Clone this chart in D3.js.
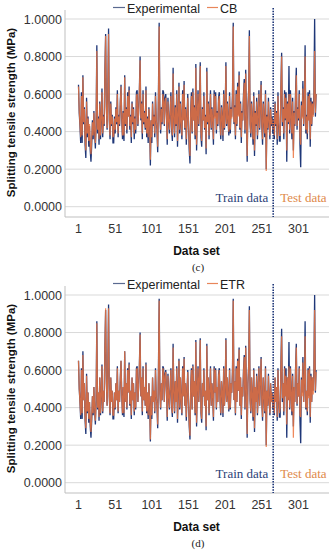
<!DOCTYPE html>
<html>
<head>
<meta charset="utf-8">
<script src="https://cdn.jsdelivr.net/npm/d3@7"></script>
<style>
  body { margin: 0; background: #fff; }
  svg { display: block; }
</style>
</head>
<body>
<svg id="chart" width="335" height="550"></svg>
<script>
// Valeurs expérimentales (325 échantillons, 266 train + 59 test)
const experimental = [
  0.65,0.50,0.43,0.34,0.61,0.34,0.70,0.44,0.53,0.33,0.26,0.58,0.37,0.48,0.32,0.43,0.30,0.24,0.33,0.46,0.36,0.51,0.39,0.31,0.44,
  0.86,0.39,0.48,0.33,0.56,0.36,0.46,0.63,0.37,0.49,0.43,0.73,0.92,0.53,0.41,0.61,0.95,0.46,0.36,0.56,0.43,0.49,0.34,0.34,0.48,
  0.39,0.53,0.44,0.62,0.37,0.49,0.43,0.56,0.65,0.46,0.36,0.51,0.35,0.70,0.43,0.53,0.39,0.61,0.48,0.64,0.41,0.49,0.34,0.56,0.44,
  0.53,0.36,0.48,0.39,0.61,0.62,0.43,0.51,0.62,0.80,0.46,0.56,0.36,0.62,0.44,0.51,0.41,0.64,0.37,0.48,0.34,0.53,0.43,0.22,0.46,
  0.34,0.56,0.43,0.49,0.37,0.61,0.46,0.41,0.29,0.60,0.98,0.48,0.39,0.53,0.44,0.62,0.61,0.43,0.58,0.60,0.49,0.33,0.58,0.46,0.39,
  0.51,0.61,0.41,0.35,0.74,0.48,0.37,0.54,0.43,0.62,0.32,0.49,0.66,0.39,0.56,0.44,0.36,0.62,0.46,0.67,0.41,0.53,0.33,0.48,0.60,
  0.43,0.30,0.23,0.51,0.61,0.39,0.63,0.46,0.54,0.36,0.76,0.30,0.49,0.62,0.43,0.56,0.77,0.37,0.32,0.53,0.46,0.61,0.41,0.49,0.28,
  0.74,0.44,0.56,0.36,0.49,0.62,0.41,0.53,0.46,0.33,0.62,0.48,0.61,0.39,0.51,0.43,0.58,0.61,0.44,0.36,0.54,0.48,0.35,0.62,0.41,
  0.49,0.77,0.43,0.56,0.46,0.38,0.61,0.39,0.53,0.48,0.60,0.98,0.44,0.54,0.36,0.62,0.43,0.66,0.49,0.72,0.41,0.56,0.34,0.51,0.46,
  0.60,0.68,0.39,0.73,0.48,0.24,0.53,0.62,0.94,0.44,0.37,0.56,0.46,0.33,0.61,0.27,0.51,0.43,0.58,0.36,0.48,0.62,0.41,0.53,0.67,
  0.43,0.33,0.56,0.46,0.37,0.62,0.20,0.49,0.41,0.58,0.44,0.36,0.53,0.43,0.48,0.39,0.46,0.36,0.56,0.43,0.51,0.33,0.61,0.44,0.35,
  0.35,0.63,0.82,0.43,0.53,0.36,0.62,0.46,0.61,0.24,0.56,0.44,0.75,0.39,0.62,0.48,0.36,0.58,0.30,0.51,0.43,0.61,0.74,0.41,0.53,
  0.46,0.62,0.33,0.21,0.56,0.48,0.67,0.43,0.53,0.86,0.39,0.49,0.36,0.61,0.46,0.62,0.32,0.58,0.43,0.56,0.49,0.60,1.00,0.48,0.60
];

// Prédictions CB
const cbPred = [
  0.64,0.51,0.44,0.37,0.59,0.38,0.69,0.45,0.52,0.36,0.30,0.56,0.39,0.47,0.35,0.44,0.33,0.28,0.36,0.45,0.38,0.50,0.41,0.34,0.45,
  0.83,0.41,0.47,0.36,0.55,0.38,0.47,0.61,0.39,0.48,0.44,0.71,0.91,0.52,0.42,0.59,0.92,0.47,0.38,0.55,0.44,0.48,0.37,0.38,0.47,
  0.41,0.52,0.45,0.60,0.39,0.48,0.44,0.55,0.64,0.47,0.38,0.50,0.38,0.69,0.44,0.52,0.41,0.59,0.48,0.62,0.43,0.48,0.37,0.55,0.45,
  0.52,0.39,0.47,0.41,0.59,0.60,0.44,0.50,0.61,0.78,0.47,0.55,0.39,0.60,0.45,0.50,0.42,0.62,0.39,0.47,0.37,0.52,0.44,0.25,0.46,
  0.37,0.55,0.44,0.48,0.39,0.59,0.46,0.42,0.32,0.58,0.96,0.47,0.41,0.52,0.45,0.60,0.58,0.44,0.56,0.58,0.48,0.36,0.56,0.46,0.41,
  0.50,0.59,0.42,0.38,0.71,0.47,0.39,0.53,0.44,0.60,0.35,0.48,0.64,0.41,0.55,0.45,0.38,0.60,0.46,0.65,0.42,0.52,0.36,0.47,0.58,
  0.44,0.33,0.27,0.50,0.59,0.40,0.61,0.46,0.53,0.38,0.74,0.33,0.48,0.60,0.44,0.55,0.75,0.39,0.35,0.52,0.46,0.59,0.42,0.48,0.31,
  0.72,0.45,0.55,0.38,0.48,0.60,0.42,0.52,0.46,0.36,0.60,0.47,0.59,0.41,0.50,0.44,0.56,0.59,0.45,0.38,0.53,0.47,0.38,0.60,0.42,
  0.48,0.75,0.44,0.55,0.46,0.40,0.59,0.41,0.52,0.47,0.58,0.96,0.45,0.53,0.38,0.60,0.44,0.64,0.48,0.70,0.42,0.55,0.37,0.50,0.46,
  0.58,0.66,0.41,0.71,0.47,0.27,0.52,0.60,0.91,0.45,0.39,0.55,0.46,0.36,0.59,0.30,0.50,0.44,0.56,0.38,0.47,0.60,0.42,0.52,0.65,
  0.44,0.36,0.55,0.46,0.39,0.60,0.19,0.48,0.42,0.56,0.45,0.38,0.52,0.44,0.47,0.41,0.46,0.38,0.55,0.44,0.50,0.36,0.59,0.45,0.38,
  0.38,0.63,0.80,0.45,0.52,0.39,0.60,0.47,0.58,0.30,0.55,0.45,0.60,0.41,0.60,0.47,0.39,0.56,0.26,0.50,0.44,0.59,0.70,0.43,0.52,
  0.47,0.60,0.37,0.33,0.54,0.47,0.63,0.44,0.52,0.80,0.41,0.48,0.39,0.59,0.46,0.60,0.36,0.56,0.44,0.55,0.48,0.57,0.83,0.50,0.60
];

// Prédictions ETR
const etrPred = [
  0.65,0.50,0.43,0.36,0.60,0.37,0.68,0.44,0.53,0.35,0.29,0.57,0.38,0.48,0.34,0.43,0.32,0.27,0.35,0.46,0.37,0.51,0.40,0.33,0.44,
  0.85,0.40,0.48,0.35,0.56,0.37,0.46,0.62,0.38,0.49,0.43,0.72,0.93,0.53,0.41,0.60,0.93,0.46,0.37,0.56,0.43,0.49,0.36,0.36,0.48,
  0.40,0.53,0.44,0.61,0.38,0.49,0.43,0.56,0.65,0.46,0.37,0.51,0.37,0.70,0.43,0.53,0.40,0.60,0.48,0.63,0.42,0.49,0.36,0.56,0.44,
  0.53,0.38,0.48,0.40,0.60,0.61,0.43,0.51,0.62,0.79,0.46,0.56,0.38,0.61,0.44,0.51,0.41,0.63,0.38,0.48,0.36,0.53,0.43,0.23,0.46,
  0.36,0.56,0.43,0.49,0.38,0.60,0.46,0.41,0.31,0.59,0.97,0.48,0.40,0.53,0.44,0.61,0.59,0.43,0.57,0.59,0.49,0.35,0.57,0.46,0.40,
  0.51,0.60,0.41,0.37,0.72,0.48,0.38,0.54,0.43,0.61,0.34,0.49,0.65,0.40,0.56,0.44,0.37,0.61,0.46,0.66,0.41,0.53,0.35,0.48,0.59,
  0.43,0.32,0.25,0.51,0.60,0.39,0.62,0.46,0.54,0.37,0.75,0.32,0.49,0.61,0.43,0.56,0.76,0.38,0.34,0.53,0.46,0.60,0.41,0.49,0.30,
  0.73,0.44,0.56,0.37,0.49,0.61,0.41,0.53,0.46,0.35,0.61,0.48,0.60,0.40,0.51,0.43,0.57,0.60,0.44,0.37,0.54,0.48,0.37,0.61,0.41,
  0.49,0.76,0.43,0.56,0.46,0.39,0.60,0.40,0.53,0.48,0.59,0.97,0.44,0.54,0.37,0.61,0.43,0.65,0.49,0.71,0.41,0.56,0.36,0.51,0.46,
  0.59,0.67,0.40,0.72,0.48,0.26,0.53,0.61,0.92,0.44,0.38,0.56,0.46,0.35,0.60,0.29,0.51,0.43,0.57,0.37,0.48,0.61,0.41,0.53,0.66,
  0.43,0.35,0.56,0.46,0.38,0.61,0.19,0.49,0.41,0.57,0.44,0.37,0.53,0.43,0.48,0.40,0.47,0.37,0.56,0.43,0.51,0.35,0.60,0.44,0.37,
  0.40,0.61,0.78,0.45,0.53,0.38,0.61,0.46,0.57,0.31,0.56,0.44,0.62,0.40,0.61,0.46,0.38,0.57,0.24,0.51,0.43,0.60,0.72,0.42,0.53,
  0.46,0.61,0.36,0.35,0.55,0.46,0.64,0.43,0.53,0.78,0.40,0.49,0.38,0.60,0.45,0.61,0.35,0.57,0.43,0.56,0.47,0.58,0.92,0.49,0.59
];

const trainCount = 266;
const xTicks = [1, 51, 101, 151, 201, 251, 301];
const yTicks = [0, 0.2, 0.4, 0.6, 0.8, 1.0];

const blue = '#1f3778';
const orange = '#ec7440';

const svg = d3.select('#chart');
svg.append('rect').attr('width', 335).attr('height', 550).attr('fill', '#fff');

// Dessine un panneau (c) ou (d)
function drawPanel(top, pred, predName, caption) {
    const g = svg.append('g').attr('transform', `translate(0,${top})`);
    const left = 65, right = 329, bottom = 217;

    const x = d3.scaleLinear().domain([1, 301]).range([78.5, 298.5]);
    const y = d3.scaleLinear().domain([0, 1]).range([206.7, 19]);

    // grille horizontale
    g.append('g').selectAll('line')
        .data(yTicks)
        .enter()
        .append('line')
        .attr('x1', left).attr('x2', right)
        .attr('y1', d => y(d)).attr('y2', d => y(d))
        .attr('stroke', '#d9d9d9')
        .attr('stroke-width', 1);

    // axes
    g.append('line').attr('x1', left).attr('x2', left).attr('y1', 10).attr('y2', bottom)
        .attr('stroke', '#bfbfbf');
    g.append('line').attr('x1', left).attr('x2', right).attr('y1', bottom).attr('y2', bottom)
        .attr('stroke', '#bfbfbf');

    // étiquettes Y
    g.append('g').selectAll('text')
        .data(yTicks)
        .enter()
        .append('text')
        .attr('x', 62)
        .attr('y', d => y(d) + 4.5)
        .attr('text-anchor', 'end')
        .style('font', '12.5px "Liberation Sans", Arial, sans-serif')
        .style('fill', '#333')
        .text(d => d.toFixed(4));

    // étiquettes X
    g.append('g').selectAll('text')
        .data(xTicks)
        .enter()
        .append('text')
        .attr('x', d => x(d))
        .attr('y', 232.5)
        .attr('text-anchor', 'middle')
        .style('font', '12.5px "Liberation Sans", Arial, sans-serif')
        .style('fill', '#333')
        .text(d => d);

    // courbes
    const line = d3.line()
        .x((d, i) => x(i + 1))
        .y(d => y(d));

    g.append('path')
        .datum(experimental)
        .attr('d', line)
        .attr('fill', 'none')
        .attr('stroke', blue)
        .attr('stroke-width', 1.3);

    g.append('path')
        .datum(pred)
        .attr('d', line)
        .attr('fill', 'none')
        .attr('stroke', orange)
        .attr('stroke-opacity', 0.85)
        .attr('stroke-width', 1.2);

    // séparation train / test
    const xs = x(trainCount + 0.5);
    g.append('line')
        .attr('x1', xs).attr('x2', xs).attr('y1', 8).attr('y2', bottom)
        .attr('stroke', blue)
        .attr('stroke-width', 1.6)
        .attr('stroke-dasharray', '1.5,1.2');

    g.append('text')
        .attr('x', xs - 5).attr('y', 202)
        .attr('text-anchor', 'end')
        .style('font', '13px "Liberation Serif", "Times New Roman", serif')
        .style('fill', '#2b4277')
        .text('Train data');
    g.append('text')
        .attr('x', xs + 7).attr('y', 202)
        .style('font', '13px "Liberation Serif", "Times New Roman", serif')
        .style('fill', '#e08a4a')
        .text('Test data');

    // légende
    g.append('line').attr('x1', 113).attr('x2', 125).attr('y1', 7.5).attr('y2', 7.5)
        .attr('stroke', '#5a6a90').attr('stroke-width', 1.2);
    g.append('text').attr('x', 127).attr('y', 12.5)
        .style('font', '12.5px "Liberation Sans", Arial, sans-serif')
        .style('fill', '#222')
        .text('Experimental');
    g.append('line').attr('x1', 207).attr('x2', 218).attr('y1', 7.5).attr('y2', 7.5)
        .attr('stroke', '#e8865a').attr('stroke-width', 1.2);
    g.append('text').attr('x', 220).attr('y', 12.5)
        .style('font', '12.5px "Liberation Sans", Arial, sans-serif')
        .style('fill', '#222')
        .text(predName);

    // titres des axes
    g.append('text')
        .attr('transform', 'translate(15,112.5) rotate(-90)')
        .attr('text-anchor', 'middle')
        .style('font', 'bold 11.5px "Liberation Sans", Arial, sans-serif')
        .style('fill', '#111')
        .text('Splitting tensile strength (MPa)');

    g.append('text')
        .attr('x', 196.5).attr('y', 254.5)
        .attr('text-anchor', 'middle')
        .style('font', 'bold 12px "Liberation Sans", Arial, sans-serif')
        .style('fill', '#111')
        .text('Data set');

    g.append('text')
        .attr('x', 198).attr('y', 271)
        .attr('text-anchor', 'middle')
        .style('font', '11px "Liberation Serif", "Times New Roman", serif')
        .style('fill', '#222')
        .text(caption);
}

drawPanel(0, cbPred, 'CB', '(c)');
drawPanel(276, etrPred, 'ETR', '(d)');
</script>
</body>
</html>
